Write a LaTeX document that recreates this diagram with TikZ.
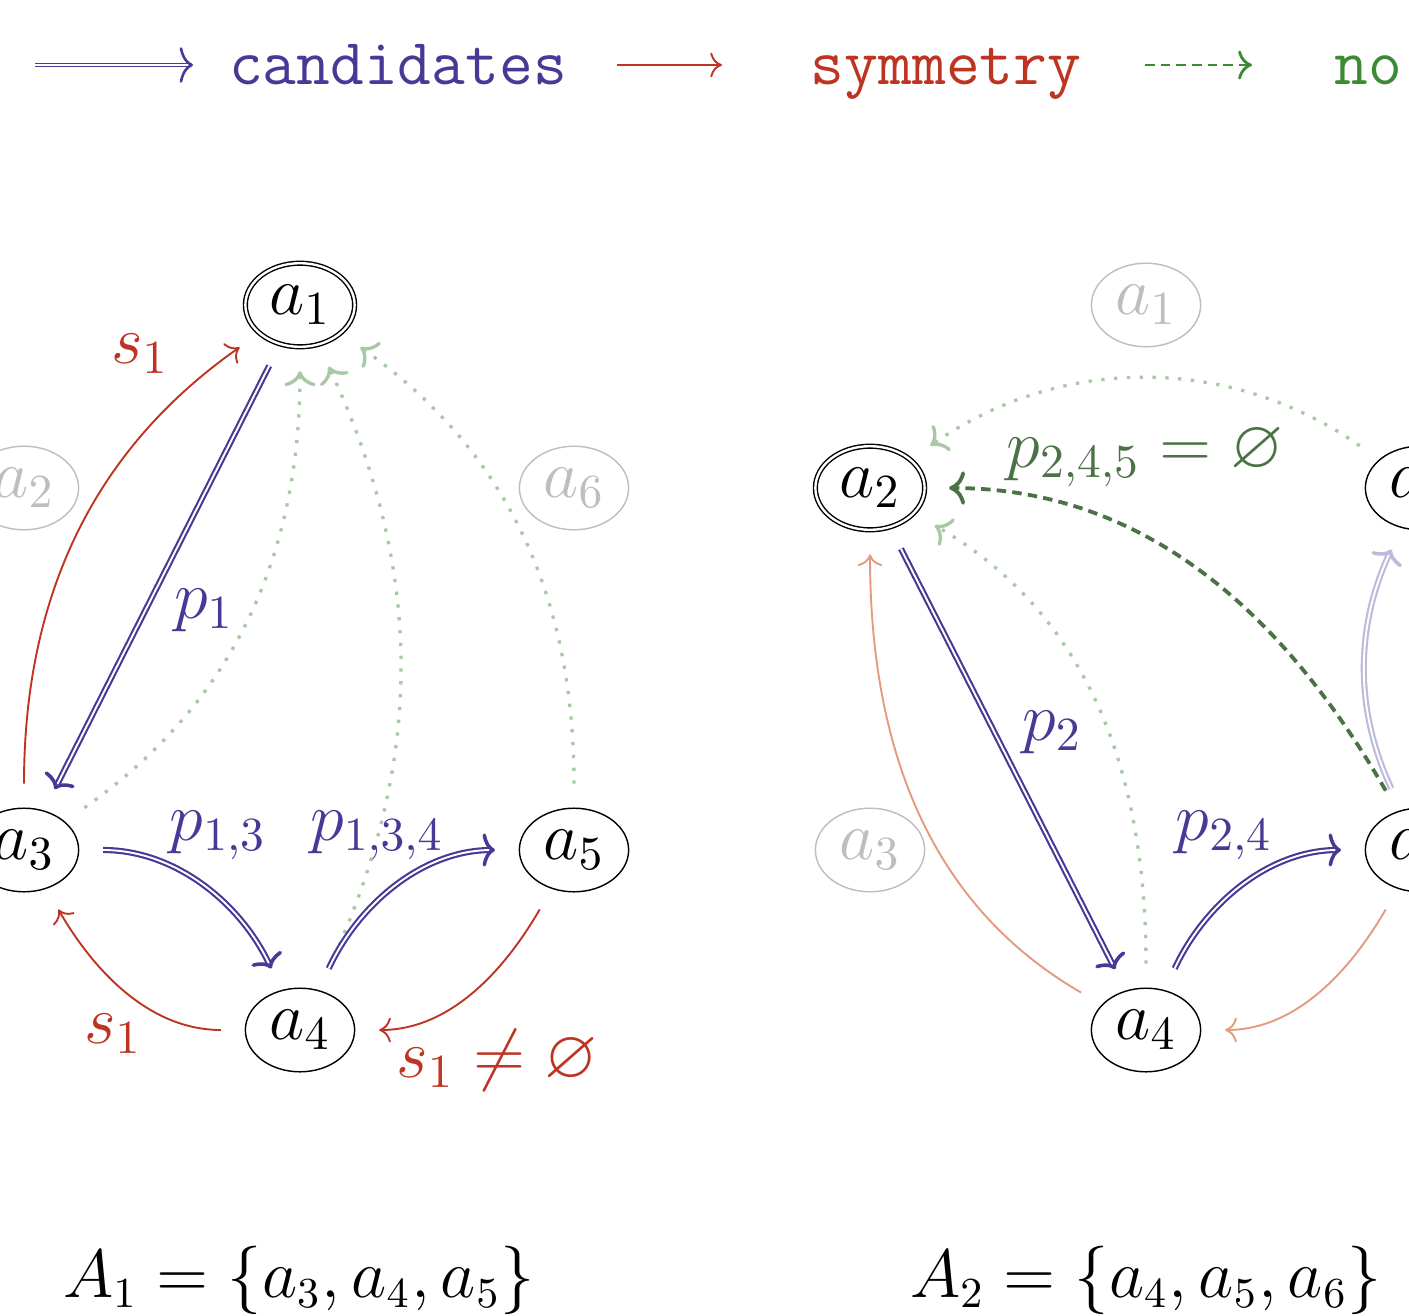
\documentclass[tikz,border=0pt]{standalone}
\usepackage{amssymb}
\usepackage{xcolor}
\usepackage{tikz}
\usetikzlibrary{arrows.meta, shapes.geometric}
\definecolor{kblue}{HTML}{463A96}
\definecolor{kred}{HTML}{BE3422}
\definecolor{kgreen}{HTML}{3C8A34}
\definecolor{kdkgreen}{HTML}{4A7244}
\definecolor{ksalmon}{HTML}{E49A7F}
\definecolor{kfaded}{HTML}{BDBDC2}

\tikzset{
  act/.style={ellipse, draw, line width=0.3pt, minimum width=23pt, minimum height=17.6pt, inner sep=1pt, font=\Large},
  actinit/.style={act, double, double distance=0.5pt},
  actoff/.style={act, draw=kfaded, text=kfaded},
  lbl/.style={anchor=base, inner sep=0pt, font=\Large},
  setlbl/.style={anchor=base, inner sep=0pt, font=\fontsize{13.5pt}{16pt}\selectfont},
  lgtxt/.style={anchor=base, inner sep=0pt, font=\fontsize{13.8pt}{16pt}\selectfont\ttfamily},
  candarr/.style={draw=kblue, line width=0.45pt, double, double distance=0.4pt, -{To[length=2.6pt, width=7pt, line width=0.75pt]}},
  candoff/.style={candarr, draw=kblue!35},
  symarr/.style={draw=kred, line width=0.4pt, ->},
  symoff/.style={symarr, draw=ksalmon},
  noarr/.style={draw=kdkgreen, line width=0.8pt, dash pattern=on 2pt off 1.3pt, ->},
  nooff/.style={draw=kgreen!45, line width=0.7pt, dotted, ->}
}

\begin{document}
\begin{tikzpicture}[x=0.2105pt, y=0.2105pt]
\useasboundingbox (0,0) rectangle (1409,1315);
\clip (0,0) rectangle (1409,1315);

\coordinate (lgb0) at (35,1250);
\coordinate (lgb1) at (193,1250);
\coordinate (lgr0) at (617,1250);
\coordinate (lgr1) at (722,1250);
\coordinate (lgg0) at (1145,1250);
\coordinate (lgg1) at (1252,1250);
\draw[candarr, line width=0.35pt, double distance=0.35pt, -{To[length=2.8pt, width=7.5pt, line width=0.55pt]}] (lgb0) -- (lgb1);
\draw[symarr] (lgr0) -- (lgr1);
\draw[noarr, draw=kgreen, line width=0.6pt] (lgg0) -- (lgg1);
\node[lgtxt, text=kblue] (lgcand) at (398,1230) {candidates};
\node[lgtxt, text=kred] (lgsym) at (946,1230) {symmetry};
\node[lgtxt, text=kgreen, anchor=base west] (lgno) at (1334,1230) {no};

\node[actinit] (la1) at (300,1010) {$a_1$};
\node[actoff] (la2) at (24,827) {$a_2$};
\node[actoff] (la6) at (574,827) {$a_6$};
\node[act] (la3) at (24,465) {$a_3$};
\node[act] (la5) at (574,465) {$a_5$};
\node[act] (la4) at (300,285) {$a_4$};

\node[actoff] (ra1) at (1146,1010) {$a_1$};
\node[actinit] (ra2) at (870,827) {$a_2$};
\node[act] (ra6) at (1420,827) {$a_6$};
\node[actoff] (ra3) at (870,465) {$a_3$};
\node[act] (ra5) at (1420,465) {$a_5$};
\node[act] (ra4) at (1146,285) {$a_4$};

\begin{scope}[shorten <=5pt, shorten >=5pt]
\draw[nooff] (la3) to[out=35, in=270] (la1);
\draw[nooff] (la4) to[out=65, in=295] (la1);
\draw[nooff] (la5) to[out=90, in=325] (la1);
\draw[symarr] (la3) to[out=90, in=215] (la1);
\draw[candarr] (la1) -- (la3);
\draw[candarr] (la3) to[out=0, in=115] (la4);
\draw[candarr] (la4) to[out=65, in=180] (la5);
\draw[symarr] (la4) to[out=180, in=300] (la3);
\draw[symarr] (la5) to[out=240, in=0] (la4);

\draw[nooff] (ra6) to[out=145, in=35] (ra2);
\draw[nooff] (ra4) to[out=90, in=330] (ra2);
\draw[symoff] (ra4) to[out=150, in=270] (ra2);
\draw[symoff] (ra5) to[out=240, in=0] (ra4);
\draw[candoff] (ra5) to[bend left=25] (ra6);
\draw[noarr] (ra5) to[out=120, in=0] (ra2);
\draw[candarr] (ra2) -- (ra4);
\draw[candarr] (ra4) to[out=65, in=180] (ra5);
\end{scope}

\node[lbl, text=kred] (ls1a) at (140,952) {$s_1$};
\node[lbl, text=kblue] (lp1) at (204,697) {$p_1$};
\node[lbl, text=kblue] (lp13) at (218,475) {$p_{1,3}$};
\node[lbl, text=kblue] (lp134) at (377,475) {$p_{1,3,4}$};
\node[lbl, text=kred] (ls1b) at (113,272) {$s_1$};
\node[lbl, text=kred] (lsne) at (497,238) {$s_1 \neq \varnothing$};

\node[lbl, text=kdkgreen] (rp245) at (1145,848) {$p_{2,4,5} = \varnothing$};
\node[lbl, text=kblue] (rp2) at (1052,575) {$p_2$};
\node[lbl, text=kblue] (rp24) at (1224,475) {$p_{2,4}$};

\node[setlbl] (lset) at (299,18) {$A_1 = \{a_3, a_4, a_5\}$};
\node[setlbl] (rset) at (1146,18) {$A_2 = \{a_4, a_5, a_6\}$};
\end{tikzpicture}
\end{document}
